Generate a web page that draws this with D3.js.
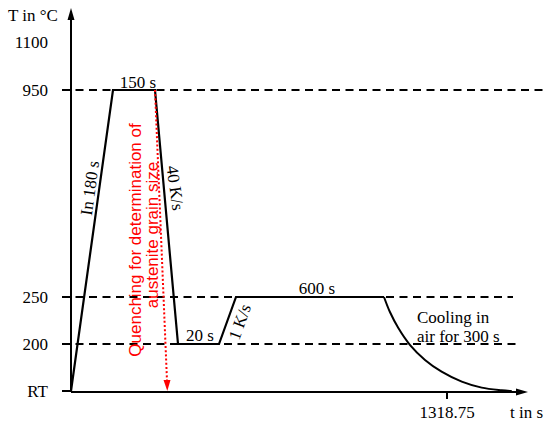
<!DOCTYPE html>
<html><head><meta charset="utf-8">
<script src="https://cdn.jsdelivr.net/npm/d3@7"></script>
<style>body{margin:0;background:#fff}svg{display:block}</style>
</head><body>
<svg id="c" width="550" height="428"></svg>
<script>
// ---- data ----
const segTimes = [0, 180, 330, 348.75, 368.75, 418.75, 1018.75, 1318.75];
const profileTimes = [0, 180, 330, 348.75, 368.75, 418.75, 1018.75];
const profileTemps = [20, 950, 950, 200, 200, 250, 250];
const coolTimes = [1018.75, 1047, 1087, 1143, 1214, 1293, 1389, 1484, 1579, 1627];
const coolTemps = [250, 234, 217, 196, 139, 94, 56, 33, 23, 20];
const tempLevels = [20, 200, 250, 950, 1100];
const tempLabels = ["RT", "200", "250", "950", "1100"];
const dashedLevels = [950, 250, 200];
const xTickValues = [1318.75];
const xTickLabels = ["1318.75"];

const svg = d3.select("#c");
const serif = "'Liberation Serif','Times New Roman',serif";
const x = d3.scaleLinear().domain(segTimes).range([71, 113, 155, 178, 219, 236, 384, 447]);
const y = d3.scaleLinear().domain(tempLevels).range([391, 344, 297, 90, 42]);

// dashed reference lines
const dashEnds = {950: 545, 250: 513, 200: 517};
svg.selectAll("line.dash").data(dashedLevels).enter().append("line")
  .attr("x1", 62).attr("x2", d => dashEnds[d])
  .attr("y1", d => y(d)).attr("y2", d => y(d))
  .attr("stroke", "#000").attr("stroke-width", 2).attr("stroke-dasharray", "8,5.5");

// axes
const x0 = x(0), yb = y(20);
svg.append("line").attr("x1", x0).attr("x2", x0).attr("y1", yb + 1).attr("y2", 14)
  .attr("stroke", "#000").attr("stroke-width", 2);
svg.append("path").attr("d", `M${x0},8 L${x0-3.5},20 L${x0+3.5},20 Z`).attr("fill", "#000");
svg.append("line").attr("x1", x0).attr("x2", 520).attr("y1", yb + 1).attr("y2", yb + 1)
  .attr("stroke", "#000").attr("stroke-width", 2);
svg.append("path").attr("d", `M528,${yb+1} L516,${yb-2.5} L516,${yb+4.5} Z`).attr("fill", "#000");

// y ticks
tempLevels.forEach((v, i) => {
  if (v !== 1100) svg.append("line").attr("x1", 62).attr("x2", x0).attr("y1", y(v)).attr("y2", y(v))
    .attr("stroke", "#000").attr("stroke-width", 2);
  svg.append("text").attr("x", 48).attr("y", y(v) + 6).attr("text-anchor", "end")
    .attr("font-family", serif).attr("font-size", 17).text(tempLabels[i]);
});
svg.append("text").attr("x", 8).attr("y", 21).attr("font-family", serif).attr("font-size", 17).text("T in °C");

// x ticks
xTickValues.forEach((v, i) => {
  svg.append("line").attr("x1", x(v)).attr("x2", x(v)).attr("y1", yb + 1).attr("y2", yb + 8)
    .attr("stroke", "#000").attr("stroke-width", 2);
  svg.append("text").attr("x", x(v)).attr("y", 418).attr("text-anchor", "middle")
    .attr("font-family", serif).attr("font-size", 17).text(xTickLabels[i]);
});
svg.append("text").attr("x", 510).attr("y", 418).attr("font-family", serif).attr("font-size", 17).text("t in s");

// profile
const lineGen = d3.line().x(d => x(d[0])).y(d => y(d[1]));
svg.append("path").datum(profileTimes.map((t, i) => [t, profileTemps[i]]))
  .attr("d", lineGen).attr("fill", "none").attr("stroke", "#000").attr("stroke-width", 2.2)
  .attr("stroke-linejoin", "miter");
svg.append("path").datum(coolTimes.map((t, i) => [t, coolTemps[i]]))
  .attr("d", d3.line().x(d => x(d[0])).y(d => y(d[1])).curve(d3.curveCatmullRom.alpha(0.5)))
  .attr("fill", "none").attr("stroke", "#000").attr("stroke-width", 2);

// red quench arrow
const qx1 = x(330), qy1 = y(950), qx2 = qx1 + 12, qy2 = 381;
svg.append("line").attr("x1", qx1).attr("y1", qy1).attr("x2", qx2).attr("y2", qy2)
  .attr("stroke", "#ff0000").attr("stroke-width", 2).attr("stroke-dasharray", "2,2.2");
svg.append("path").attr("d", `M${qx2-3.5},${qy2-1} L${qx2+3.5},${qy2-1} L${qx2+0.3},${qy2+10} Z`).attr("fill", "#ff0000");

// labels
function lab(t, cx, cy, rot, opts = {}) {
  return svg.append("text").attr("transform", `translate(${cx},${cy}) rotate(${rot})`)
    .attr("text-anchor", opts.anchor || "middle").attr("dominant-baseline", opts.base || "auto")
    .attr("font-family", opts.font || serif).attr("font-size", opts.size || 17)
    .attr("fill", opts.fill || "#000").text(t);
}
lab("150 s", 138, 88, 0);
lab("In 180 s", 90, 188, -82, {base: "central"});
lab("40 K/s", 175, 188, 82, {base: "central"});
lab("20 s", 200, 341, 0);
lab("1 K/s", 240, 322, -70, {base: "central"});
lab("600 s", 317, 294, 0);
svg.append("text").attr("x", 417).attr("y", 323).attr("font-family", serif).attr("font-size", 17).text("Cooling in");
svg.append("text").attr("x", 417).attr("y", 342).attr("font-family", serif).attr("font-size", 17).text("air for 300 s");
const sans = "'Liberation Sans',Arial,sans-serif";
lab("Quenching for determination of", 135, 240, -90, {base: "central", font: sans, size: 17, fill: "#ff0000"});
lab("austenite grain size", 152, 235, -90, {base: "central", font: sans, size: 17, fill: "#ff0000"});
</script>
</body></html>
